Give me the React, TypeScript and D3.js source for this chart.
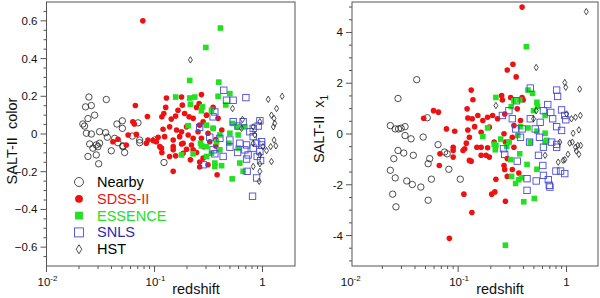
import * as d3 from "d3";

// [redshift, SALT-II color]
const nearbyColor: [number, number][] = [
  [0.0247, 0.196], [0.023, 0.144], [0.026, 0.151], [0.0242, 0.082], [0.0279, 0.1], [0.0358, 0.183],
  [0.0217, 0.053], [0.0225, 0.042], [0.0234, 0.004], [0.026, 0], [0.031, 0.012], [0.0353, 0.007],
  [0.0366, -0.017], [0.0428, -0.023], [0.0449, 0.053], [0.0504, 0.07], [0.0504, 0.03], [0.0624, -0.011],
  [0.0703, 0.059], [0.0729, -0.032], [0.1005, -0.032], [0.031, -0.049], [0.0299, -0.067], [0.051, -0.067],
  [0.0269, -0.075], [0.0251, -0.053], [0.0289, -0.058], [0.0458, -0.046], [0.051, -0.063], [0.0242, -0.119],
  [0.0289, -0.111], [0.0398, -0.089], [0.0529, -0.098], [0.0304, -0.158], [0.1225, -0.151], [0.0729, -0.046],
];
const sdssColor: [number, number][] = [
  [0.078, 0.6], [0.0665, 0.151], [0.086, 0.093], [0.063, 0.065], [0.065, 0.053], [0.068, -0.002],
  [0.057, -0.005], [0.129, 0.191], [0.127, 0.141], [0.122, 0.109], [0.117, 0.091], [0.143, 0.079],
  [0.165, 0.126], [0.178, 0.196], [0.181, 0.153], [0.157, 0.095], [0.19, 0.109], [0.209, 0.091],
  [0.272, 0.209], [0.259, 0.162], [0.245, 0.141], [0.228, 0.083], [0.198, 0.038], [0.16, 0.021],
  [0.138, 0.038], [0.178, 0.012], [0.12, 0.025], [0.124, -0.014], [0.108, -0.017], [0.087, -0.032],
  [0.097, -0.035], [0.149, -0.032], [0.171, -0.014], [0.205, -0.005], [0.228, -0.023], [0.253, 0.012],
  [0.262, 0.047], [0.282, 0.065], [0.303, 0.1], [0.349, 0.141], [0.388, 0.083], [0.349, 0.03],
  [0.313, 0.004], [0.272, -0.023], [0.325, -0.041], [0.184, -0.049], [0.0459, -0.028], [0.0548, -0.058],
  [0.112, -0.067], [0.149, -0.067], [0.0412, -0.041], [0.084, -0.049], [0.104, -0.041], [0.116, -0.075],
  [0.117, -0.098], [0.149, -0.084], [0.157, -0.116], [0.178, -0.053], [0.184, -0.102], [0.198, -0.081],
  [0.22, -0.058], [0.228, -0.084], [0.245, -0.098], [0.262, -0.149], [0.262, -0.175], [0.313, -0.163],
  [0.149, -0.198], [0.38, -0.216], [0.215, -0.137], [0.282, -0.128], [0.138, -0.119], [0.286, -0.067],
  [0.42, 0.021], [0.37, -0.03], [0.37, -0.063],
];
const essenceColor: [number, number][] = [
  [0.408, 0.562], [0.299, 0.459], [0.212, 0.284], [0.394, 0.275], [0.157, 0.196], [0.212, 0.191],
  [0.236, 0.196], [0.215, 0.158], [0.388, 0.2], [0.499, 0.214], [0.457, 0.154], [0.278, 0.144],
  [0.272, 0.123], [0.337, 0.126], [0.205, 0.044], [0.303, 0.047], [0.349, 0.03], [0.528, 0.056],
  [0.582, 0.038], [0.687, 0.038], [0.499, 0.004], [0.403, -0.005], [0.595, -0.005], [0.267, -0.049],
  [0.303, -0.067], [0.375, -0.041], [0.272, -0.063], [0.178, -0.111], [0.303, -0.119], [0.337, -0.102],
  [0.362, -0.154], [0.418, -0.168], [0.362, -0.172], [0.617, -0.154], [0.662, -0.198], [0.524, -0.238],
  [0.488, -0.049], [0.595, -0.075], [0.403, -0.084], [0.228, -0.105],
];
const snlsColor: [number, number][] = [
  [0.438, 0.232], [0.464, 0.179], [0.535, 0.179], [0.702, 0.193], [0.362, 0.117], [0.535, 0.065],
  [0.595, 0.042], [0.662, 0.065], [0.946, 0.07], [0.912, 0.042], [0.82, 0.03], [0.349, 0.091],
  [0.262, 0.035], [0.325, -0.017], [0.403, -0.023], [0.499, -0.032], [0.617, -0.049], [0.712, -0.058],
  [0.882, -0.049], [0.981, -0.041], [0.82, -0.014], [0.764, 0.012], [0.349, -0.084], [0.432, -0.119],
  [0.499, -0.07], [0.588, -0.098], [0.687, -0.084], [0.736, -0.111], [0.712, -0.133], [0.82, -0.075],
  [0.981, -0.058], [0.946, -0.093], [0.893, -0.119], [0.96, -0.141], [0.282, -0.163], [0.721, -0.198],
  [0.882, -0.233], [0.809, -0.33], [0.362, -0.105],
];
const hstColor: [number, number][] = [
  [0.215, 0.393], [0.528, 0.135], [1.13, 0.184], [1.52, 0.2], [1.35, 0.135], [1.21, 0.1],
  [1.28, 0.083], [1.3, 0.056], [1.26, 0.038], [1.28, -0.032], [1.33, -0.063], [0.653, 0.077],
  [0.64, 0.03], [0.946, 0.065], [0.85, -0.005], [0.82, 0.038], [1.01, -0.067], [1.19, -0.067],
  [0.946, -0.111], [1.21, -0.146], [0.946, -0.158], [0.946, -0.198], [0.931, -0.251], [1.09, -0.088],
  [0.82, -0.049], [0.82, -0.172],
];

// [redshift, SALT-II x1]
const nearbyX1: [number, number][] = [
  [0.0237, 0.33], [0.0263, 0.2], [0.0282, 0.2], [0.0298, 0.23], [0.0324, 0.29], [0.0279, 1.4],
  [0.0415, 2.14], [0.0519, 0.64], [0.0324, -0.06], [0.0368, -0.19], [0.0476, -0.12], [0.0653, -0.42],
  [0.0279, -0.65], [0.0315, -0.75], [0.0386, -0.84], [0.0255, -0.97], [0.0547, -0.97], [0.0529, -1.17],
  [0.075, -0.71], [0.0793, -0.78], [0.0237, -1.43], [0.0821, -1.39], [0.0263, -1.73], [0.0336, -1.85],
  [0.0378, -1.99], [0.0453, -2.09], [0.0567, -1.78], [0.1047, -1.78], [0.0249, -2.37], [0.0529, -2.61],
  [0.0267, -2.87],
];
const sdssX1: [number, number][] = [
  [0.389, 5.0], [0.32, 2.75], [0.284, 2.52], [0.343, 2.25], [0.132, 1.73], [0.137, 1.35],
  [0.121, 0.99], [0.0593, 0.92], [0.0658, 0.86], [0.0481, 0.62], [0.123, 0.63], [0.135, 0.6],
  [0.152, 0.73], [0.078, 0.2], [0.093, 0.11], [0.123, 0.16], [0.142, 0.29], [0.169, 0.53],
  [0.187, 0.66], [0.208, 0.73], [0.252, 1.51], [0.256, 1.34], [0.305, 1.44], [0.389, 1.44],
  [0.398, 1.34], [0.351, 0.99], [0.269, 0.79], [0.231, 0.6], [0.194, 0.27], [0.163, 0.07],
  [0.127, -0.13], [0.09, -0.52], [0.115, -0.58], [0.163, -0.52], [0.215, -0.32], [0.265, 0.01],
  [0.316, -0.13], [0.273, -0.32], [0.376, 0.53], [0.327, 0.33], [0.068, -0.78], [0.09, -0.65],
  [0.067, -1.24], [0.09, -0.91], [0.111, -0.65], [0.127, -1.04], [0.132, -1.07], [0.119, -0.36],
  [0.149, -0.52], [0.163, -0.84], [0.181, -0.84], [0.187, -0.54], [0.194, -0.91], [0.223, -1.78],
  [0.265, -1.24], [0.269, -1.4], [0.284, -0.97], [0.316, -1.4], [0.284, -1.67], [0.363, -1.54],
  [0.113, -2.37], [0.204, -2.37], [0.218, -2.28], [0.273, -2.65], [0.134, -3.09], [0.083, -4.11],
  [0.294, -0.32], [0.327, -0.52],
];
const essenceX1: [number, number][] = [
  [0.426, 3.44], [0.223, 1.44], [0.37, 1.34], [0.327, 1.31], [0.441, 1.73], [0.486, 1.6],
  [0.533, 1.25], [0.54, 1.08], [0.634, 0.73], [0.496, 0.92], [0.309, 1.08], [0.187, 0.24],
  [0.247, -0.2], [0.169, -0.1], [0.215, -0.41], [0.376, 0.29], [0.441, 0.24], [0.533, 0.11],
  [0.355, -0.06], [0.294, -0.32], [0.463, -0.32], [0.634, 0.03], [0.656, -0.25], [0.223, -0.45],
  [0.22, -0.62], [0.281, -0.49], [0.37, -0.78], [0.305, -1.01], [0.432, -1.2], [0.533, -1.39],
  [0.311, -1.67], [0.339, -1.95], [0.363, -1.8], [0.384, -1.72], [0.403, -2.67], [0.504, -2.54],
  [0.273, -4.38], [0.634, -0.32],
];
const snlsX1: [number, number][] = [
  [0.463, 1.81], [0.81, 1.73], [0.827, 1.48], [0.671, 1.16], [0.612, 0.92], [0.715, 0.85],
  [0.899, 0.95], [0.294, 0.92], [0.346, 1.31], [0.963, 0.73], [0.984, 0.56], [0.745, 0.6],
  [0.571, 0.46], [0.463, 0.6], [0.316, 0.6], [0.256, 0.73], [0.514, 0.2], [0.81, 0.29],
  [0.899, 0.14], [0.389, 0.2], [0.339, 0.2], [0.563, -0.13], [0.456, -0.32], [0.729, -0.32],
  [0.81, -0.52], [0.612, -0.52], [0.376, -0.13], [0.269, -0.8], [0.351, -1.07], [0.551, -0.84],
  [0.604, -1.24], [0.432, -1.76], [0.525, -1.85], [0.612, -1.63], [0.679, -1.8], [0.798, -1.46],
  [0.963, -1.56], [0.881, -1.46], [0.432, -2.22], [0.693, -2.02], [0.703, -2.09], [0.262, -0.58],
  [0.81, -0.41],
];
const hstX1: [number, number][] = [
  [1.52, 4.82], [0.525, 2.62], [0.963, 2.03], [0.983, 1.84], [1.32, 1.77], [0.223, 1.12],
  [1.34, 0.73], [1.21, 0.66], [1.11, 0.6], [1.0, 0.79], [1.3, 0.16], [1.15, 0.03],
  [1.07, -0.36], [1.21, -0.52], [1.35, -0.45], [0.867, -0.32], [0.496, 0.6], [0.525, 0.92],
  [1.27, -0.45], [1.23, -0.67], [1.3, -0.8], [1.13, -0.32], [1.03, -0.8], [0.963, -1.01],
  [0.837, -1.11], [0.93, -1.04], [0.634, -0.84],
];

const legendNames = ["Nearby", "SDSS-II", "ESSENCE", "SNLS", "HST"];
const colorTicks = [-0.6, -0.4, -0.2, 0, 0.2, 0.4, 0.6];
const x1Ticks = [-4, -2, 0, 2, 4];
const zTicks = [0.01, 0.1, 1];

const RED = "#ee1111";
const GREEN = "#22e022";
const BLUE = "#4a4ad8";
const FRAME = "#555";
const FONT = "'Liberation Sans', Arial, Helvetica, sans-serif";

type Pt = [number, number];

function Marker({ kind, x, y, big }: { kind: number; x: number; y: number; big?: boolean }) {
  const s = big ? 1.4 : 1;
  if (kind === 0) return <circle cx={x} cy={y} r={3.2 * s} fill="none" stroke="#222" strokeWidth={0.8} />;
  if (kind === 1) return <circle cx={x} cy={y} r={2.8 * s} fill={RED} />;
  if (kind === 2) {
    const h = 2.8 * s;
    return <rect x={x - h} y={y - h} width={2 * h} height={2 * h} fill={GREEN} />;
  }
  if (kind === 3) {
    const h = 3.2 * s;
    return <rect x={x - h} y={y - h} width={2 * h} height={2 * h} fill="none" stroke={BLUE} strokeWidth={0.9} />;
  }
  const w = 2 * s, hh = 3.2 * s;
  return (
    <path d={`M${x},${y - hh}L${x + w},${y}L${x},${y + hh}L${x - w},${y}Z`} fill="none" stroke="#222" strokeWidth={0.8} />
  );
}

interface PanelProps {
  left: number;
  right: number;
  zDomain: [number, number];
  yDomain: [number, number];
  yTicks: number[];
  yMinor: number;
  yFmt: (v: number) => string;
  sets: Pt[][];
  labelX: number;
  labelY: number;
  label: React.ReactNode;
  legend?: boolean;
  titleX: number;
}

function Panel(p: PanelProps) {
  const top = 2, bottom = 266;
  const x = d3.scaleLog().domain(p.zDomain).range([p.left, p.right]);
  const y = d3.scaleLinear().domain(p.yDomain).range([bottom, top]);
  const minorX: number[] = [];
  zTicks.forEach((d) => {
    for (let k = 2; k <= 9; k++) {
      const v = d * k;
      if (v > p.zDomain[0] && v < p.zDomain[1]) minorX.push(v);
    }
  });
  const minorY = d3
    .range(Math.ceil(p.yDomain[0] / p.yMinor), Math.floor(p.yDomain[1] / p.yMinor) + 1)
    .map((k) => k * p.yMinor)
    .filter((v) => !p.yTicks.some((t) => Math.abs(t - v) < 1e-9));
  const legendColors = ["#000", RED, GREEN, "#2a2ab0", "#000"];

  return (
    <g fontFamily={FONT}>
      {p.sets.map((pts, k) => (
        <g key={k}>
          {pts.map((d, i) => (
            <Marker key={i} kind={k} x={x(d[0])} y={y(d[1])} />
          ))}
        </g>
      ))}
      <rect x={p.left} y={top} width={p.right - p.left} height={bottom - top} fill="none" stroke={FRAME} strokeWidth={1} />
      {zTicks
        .filter((t) => t >= p.zDomain[0])
        .map((t) => (
          <line key={t} x1={x(t)} x2={x(t)} y1={bottom} y2={bottom + 6} stroke={FRAME} />
        ))}
      {minorX.map((t) => (
        <line key={"m" + t} x1={x(t)} x2={x(t)} y1={bottom} y2={bottom + 3} stroke={FRAME} />
      ))}
      {zTicks.map((t, i) => (
        <text key={"l" + t} x={x(t) + (i < 2 ? 1 : 0)} y={286} fontSize={11.5} textAnchor="middle" fill="#111">
          {i === 0 ? "10" : i === 1 ? "10" : "1"}
          {i < 2 && (
            <tspan dy={-5} fontSize={8}>
              {i === 0 ? "-2" : "-1"}
            </tspan>
          )}
        </text>
      ))}
      <text x={p.titleX} y={294} fontSize={14.5} textAnchor="middle" fill="#111">
        redshift
      </text>
      {p.yTicks.map((t) => (
        <g key={"y" + t}>
          <line x1={p.left - 6} x2={p.left} y1={y(t)} y2={y(t)} stroke={FRAME} />
          <text x={p.left - 9} y={y(t) + 4} fontSize={11.5} textAnchor="end" fill="#111">
            {p.yFmt(t)}
          </text>
        </g>
      ))}
      {minorY.map((t) => (
        <line key={"ym" + t} x1={p.left - 3} x2={p.left} y1={y(t)} y2={y(t)} stroke={FRAME} />
      ))}
      <text transform={`translate(${p.labelX},${p.labelY}) rotate(-90)`} fontSize={14.5} textAnchor="middle" fill="#111">
        {p.label}
      </text>
      {p.legend &&
        legendNames.map((n, i) => (
          <g key={n}>
            <Marker kind={i} x={79} y={182 + i * 16.8} big />
            <text x={97} y={187 + i * 16.8} fontSize={14.5} fill={legendColors[i]}>
              {n}
            </text>
          </g>
        ))}
    </g>
  );
}

export default function App() {
  return (
    <svg width={600} height={298} style={{ position: "absolute", left: 0, top: 0, background: "#fff" }}>
      <Panel
        left={46.5}
        right={295}
        zDomain={[0.01, 2]}
        yDomain={[-0.7, 0.7]}
        yTicks={colorTicks}
        yMinor={0.05}
        yFmt={(v) => (v === 0 ? "0" : d3.format(".1f")(v))}
        sets={[nearbyColor, sdssColor, essenceColor, snlsColor, hstColor]}
        labelX={17}
        labelY={141}
        label={"SALT-II\u00a0 color"}
        legend
        titleX={196}
      />
      <Panel
        left={352}
        right={598}
        zDomain={[0.0105, 1.95]}
        yDomain={[-5.2, 5.2]}
        yTicks={x1Ticks}
        yMinor={0.5}
        yFmt={(v) => String(v)}
        sets={[nearbyX1, sdssX1, essenceX1, snlsX1, hstX1]}
        labelX={324}
        labelY={129}
        label={
          <>
            {"SALT-II\u00a0 x"}
            <tspan dy={4} fontSize={10}>
              1
            </tspan>
          </>
        }
        titleX={500}
      />
    </svg>
  );
}
